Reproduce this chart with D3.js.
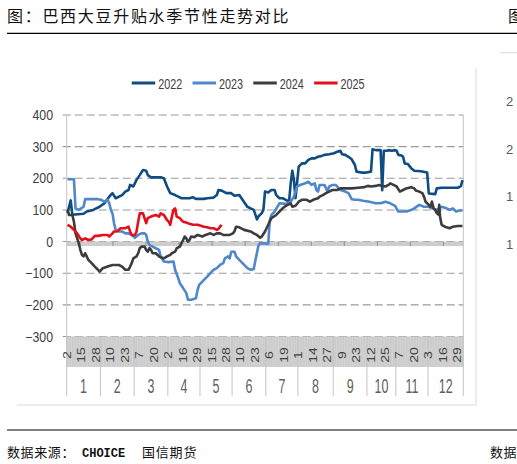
<!DOCTYPE html>
<html>
<head>
<meta charset="utf-8">
<script src="https://cdn.jsdelivr.net/npm/d3@7"></script>
<style>
  body { margin: 0; background: #fff; }
  svg { display: block; }
</style>
</head>
<body>
<div id="chart"></div>
<script>
// month groups of the category axis and how many trading days each one holds
var months = ["1", "2", "3", "4", "5", "6", "7", "8", "9", "10", "11", "12"];
var monthDays = [21, 21, 21, 20, 20, 21, 20, 22, 21, 18, 20, 22];

// day labels shown on the axis, one every 9th trading day
var dateLabels = ["2", "15", "28", "10", "23", "7", "20", "2", "16", "29", "15", "28", "10", "23",
    "6", "19", "1", "14", "27", "9", "23", "12", "25", "7", "20", "3", "16", "29"];
var labelStep = 9;

var yTicks = [400, 300, 200, 100, 0, -100, -200, -300];
var years = ["2022", "2023", "2024", "2025"];

// series values: [trading day index, premium]
var s2022 = [[0, 90], [2, 130], [3, 85], [10, 88], [12, 95], [16, 100], [20, 110], [23, 121], [26, 142],
    [28, 153], [30, 137], [34, 147], [36, 158], [38, 163], [39, 179], [41, 174], [43, 195], [45, 210],
    [47, 226], [49, 224], [50, 210], [52, 203], [58, 203], [60, 200], [62, 174], [64, 153], [67, 147],
    [69, 142], [71, 137], [76, 137], [78, 140], [80, 135], [85, 135], [87, 137], [91, 139], [93, 147],
    [94, 163], [96, 161], [99, 153], [102, 153], [104, 145], [107, 147], [109, 132], [112, 110],
    [114, 105], [116, 100], [117, 85], [118, 70], [119, 80], [121, 90], [122, 100], [123, 158],
    [125, 155], [127, 163], [129, 163], [130, 147], [132, 137], [134, 137], [136, 132], [138, 126],
    [139, 184], [140, 224], [141, 195], [142, 137], [144, 237], [146, 247], [148, 247], [150, 258],
    [152, 263], [154, 263], [156, 268], [158, 270], [160, 274], [163, 276], [166, 279], [168, 284],
    [170, 287], [171, 276], [173, 274], [175, 268], [177, 260], [179, 242], [180, 221], [183, 218],
    [186, 218], [189, 221], [190, 292], [192, 289], [195, 289], [196, 162], [197, 287], [199, 287],
    [200, 289], [202, 287], [204, 289], [205, 287], [206, 274], [208, 272], [209, 268], [210, 247],
    [212, 245], [214, 232], [216, 224], [220, 222], [224, 218], [225, 152], [229, 150], [230, 168],
    [233, 170], [243, 170], [245, 175], [246, 194]];

var s2023 = [[0, 197], [4, 197], [5, 105], [7, 100], [10, 110], [11, 134], [19, 134], [21, 132],
    [23, 126], [25, 132], [26, 121], [27, 100], [28, 89], [29, 58], [30, 37], [32, 32], [34, 32],
    [36, 26], [38, 26], [40, 21], [42, 12], [44, 21], [46, 26], [48, 26], [49, 21], [50, 0], [51, -11],
    [53, -16], [55, -21], [57, -26], [58, -47], [60, -63], [63, -65], [66, -63], [67, -89], [69, -116],
    [70, -132], [72, -147], [74, -163], [75, -184], [77, -184], [79, -181], [80, -179], [81, -153],
    [82, -137], [85, -121], [87, -111], [89, -100], [91, -89], [93, -84], [95, -74], [97, -68],
    [98, -53], [100, -47], [101, -53], [102, -32], [104, -32], [105, -47], [107, -58], [109, -68],
    [112, -84], [114, -89], [116, -87], [117, -60], [119, -11], [120, -5], [125, -7], [126, 68],
    [127, 84], [129, 95], [132, 121], [136, 119], [139, 126], [141, 142], [143, 174], [145, 179],
    [148, 184], [150, 189], [152, 179], [154, 184], [155, 163], [156, 158], [157, 179], [160, 179],
    [162, 158], [163, 174], [165, 179], [167, 179], [168, 174], [170, 163], [173, 158], [175, 153],
    [177, 134], [179, 132], [181, 132], [184, 129], [188, 126], [192, 121], [195, 121], [198, 126],
    [201, 121], [204, 113], [206, 95], [211, 95], [214, 100], [216, 105], [219, 116], [222, 110],
    [225, 110], [227, 105], [230, 100], [233, 110], [236, 105], [238, 100], [240, 105], [242, 95],
    [244, 98], [246, 98]];

var s2024 = [[0, 100], [1, 84], [3, 84], [4, 63], [5, 26], [7, -5], [8, -26], [9, -42], [10, -47],
    [11, -37], [12, -47], [13, -58], [15, -68], [17, -79], [19, -89], [20, -95], [22, -84], [25, -79],
    [28, -74], [32, -74], [34, -79], [36, -89], [38, -89], [39, -79], [40, -68], [41, -53], [43, -47],
    [44, -37], [45, -21], [46, -16], [48, -16], [49, -26], [50, -32], [51, -21], [52, -26], [53, -37],
    [55, -37], [57, -47], [60, -53], [62, -47], [64, -42], [65, -37], [67, -32], [68, -21], [70, -16],
    [71, -5], [72, 5], [73, 16], [74, 10], [75, 0], [76, 5], [77, 16], [79, 14], [81, 21], [84, 16],
    [86, 21], [89, 26], [91, 21], [93, 26], [95, 26], [97, 21], [101, 21], [103, 26], [104, 32],
    [105, 47], [107, 45], [110, 37], [114, 32], [116, 26], [118, 21], [120, 12], [121, 16], [123, 32],
    [125, 53], [127, 74], [130, 84], [132, 95], [134, 105], [136, 113], [139, 121], [140, 110],
    [142, 113], [144, 126], [146, 132], [149, 132], [151, 126], [153, 132], [156, 137], [157, 142],
    [159, 147], [161, 153], [163, 158], [165, 163], [168, 163], [170, 168], [177, 168], [181, 170],
    [185, 172], [187, 176], [189, 174], [192, 176], [194, 179], [196, 176], [198, 174], [200, 179],
    [201, 184], [203, 179], [205, 174], [207, 158], [209, 163], [211, 168], [214, 172], [216, 168],
    [217, 161], [219, 158], [221, 153], [222, 142], [223, 126], [225, 116], [226, 110], [227, 126],
    [228, 105], [229, 100], [230, 90], [231, 85], [231.5, 116], [232, 79], [233, 53], [235, 47],
    [238, 42], [240, 47], [243, 49], [246, 49]];

var s2025 = [[0, 53], [2, 47], [4, 37], [6, 26], [8, 10], [9, 5], [11, 10], [13, 5], [15, 7], [17, 18],
    [19, 18], [22, 21], [25, 21], [26, 16], [28, 26], [29, 32], [31, 32], [33, 42], [36, 42], [38, 47],
    [39, 32], [40, 21], [42, 21], [43, 32], [44, 63], [45, 89], [47, 89], [49, 58], [50, 74], [52, 79],
    [55, 84], [57, 79], [58, 89], [60, 84], [62, 68], [63, 63], [64, 53], [65, 79], [66, 100], [67, 105],
    [68, 79], [70, 74], [71, 68], [72, 63], [74, 60], [76, 56], [78, 53], [81, 53], [83, 50], [85, 47],
    [87, 45], [89, 42], [91, 42], [93, 37], [94, 40], [95, 47], [96, 53]];

var seriesList = [s2022, s2023, s2024, s2025];

var width = 517, height = 464;
var plot = {left: 66.7, right: 463.3, top: 115, bottom: 336.5};
var dateBandBottom = 367, monthBottom = 396;

var svg = d3.select("#chart").append("svg")
    .attr("width", width)
    .attr("height", height)
    .style("font-family", "'Liberation Sans', Arial, sans-serif");

var nDays = d3.sum(monthDays);
var x = d3.scaleLinear().domain([0, nDays]).range([plot.left, plot.right]);
var y = d3.scaleLinear().domain([-300, 400]).range([plot.bottom, plot.top]);
var colorScale = d3.scaleOrdinal().domain(years).range(["#0e4c82", "#4f87cc", "#3c3c3c", "#e3101c"]);

// month boundaries as trading day indices
var bounds = [0].concat(Array.from(d3.cumsum(monthDays)));

// helper for the condensed looking text of the picture
function sq(sel, px, py, sx, extra) {
    return sel.attr("transform", "translate(" + px + "," + py + ") scale(" + sx + ",1)" + (extra || ""));
}

// title and rules
svg.append("text")
    .attr("x", 7).attr("y", 22)
    .attr("font-family", "'Noto Sans CJK SC', sans-serif")
    .attr("font-size", 16)
    .attr("letter-spacing", 1.7)
    .attr("fill", "#111")
    .text("图：巴西大豆升贴水季节性走势对比");
// first glyph of the next page column, cut by the edge as in the picture
svg.append("text")
    .attr("x", 508).attr("y", 22)
    .attr("font-family", "'Noto Sans CJK SC', sans-serif")
    .attr("font-size", 16)
    .attr("fill", "#111")
    .text("图");
svg.append("line").attr("x1", 7).attr("x2", width).attr("y1", 33.3).attr("y2", 33.3)
    .attr("stroke", "#000").attr("stroke-width", 1.2);

// chart box (right and bottom edges only are visible)
svg.append("line").attr("x1", 476).attr("x2", 476).attr("y1", 68).attr("y2", 405)
    .attr("stroke", "#d9d9d9");
svg.append("line").attr("x1", 17).attr("x2", 476).attr("y1", 405).attr("y2", 405)
    .attr("stroke", "#d9d9d9");
// edge of the neighbouring chart
svg.append("line").attr("x1", 500).attr("x2", width).attr("y1", 52.7).attr("y2", 52.7)
    .attr("stroke", "#d9d9d9");
svg.selectAll("text.nb")
    .data(["2", "2", "1", "1"])
    .enter().append("text")
    .attr("class", "nb")
    .attr("x", 506)
    .attr("y", function(d, i) { return 106 + i * 47.5; })
    .attr("font-size", 13)
    .attr("fill", "#595959")
    .text(function(d) { return d; });

// gridlines
svg.append("g")
    .selectAll("line")
    .data(yTicks)
    .enter().append("line")
    .attr("x1", plot.left - 4)
    .attr("x2", plot.right)
    .attr("y1", function(d) { return y(d); })
    .attr("y2", function(d) { return y(d); })
    .attr("stroke", "#9a9a9a")
    .attr("stroke-width", 1.1)
    .attr("stroke-dasharray", "8,4");

// y labels
svg.append("g")
    .selectAll("text")
    .data(yTicks)
    .enter().append("text")
    .each(function(d) { sq(d3.select(this), 53, y(d) + 5, 0.88); })
    .attr("text-anchor", "end")
    .attr("font-size", 14)
    .attr("fill", "#404040")
    .text(function(d) { return d3.format("d")(d); });

// zero axis band
var days = d3.range(nDays + 1);
svg.append("rect")
    .attr("x", plot.left).attr("width", plot.right - plot.left)
    .attr("y", y(0)).attr("height", 4.5)
    .attr("fill", "#c6c6c6");
svg.append("g")
    .selectAll("line")
    .data(days)
    .enter().append("line")
    .attr("x1", function(d) { return x(d); })
    .attr("x2", function(d) { return x(d); })
    .attr("y1", y(0)).attr("y2", y(0) + 4.5)
    .attr("stroke", "#dedede").attr("stroke-width", 0.5);
svg.append("g")
    .selectAll("line")
    .data(d3.range(12))
    .enter().append("line")
    .attr("x1", function(d) { return x((d + 0.4) * nDays / 12); })
    .attr("x2", function(d) { return x((d + 0.4) * nDays / 12); })
    .attr("y1", y(0)).attr("y2", y(0) + 4.5)
    .attr("stroke", "#8f8f8f").attr("stroke-width", 1);

// date label band
svg.append("rect")
    .attr("x", plot.left).attr("width", plot.right - plot.left)
    .attr("y", plot.bottom).attr("height", dateBandBottom - plot.bottom)
    .attr("fill", "#c8c8c8");
svg.append("g")
    .selectAll("line")
    .data(days)
    .enter().append("line")
    .attr("x1", function(d) { return x(d); })
    .attr("x2", function(d) { return x(d); })
    .attr("y1", plot.bottom).attr("y2", dateBandBottom)
    .attr("stroke", "#dadada").attr("stroke-width", 0.6);

// plot edges and month separators
svg.append("g")
    .selectAll("line")
    .data(bounds)
    .enter().append("line")
    .attr("x1", function(d) { return x(d); })
    .attr("x2", function(d) { return x(d); })
    .attr("y1", function(d, i) { return (i === 0 || i === bounds.length - 1) ? plot.top : plot.bottom; })
    .attr("y2", monthBottom)
    .attr("stroke", "#c4c4c4")
    .attr("stroke-width", 1);

// day labels
svg.append("g")
    .selectAll("text")
    .data(dateLabels)
    .enter().append("text")
    .each(function(d, i) { sq(d3.select(this), x(i * labelStep + 0.5), 355, 0.8, " rotate(-90)"); })
    .attr("text-anchor", "middle")
    .attr("dominant-baseline", "central")
    .attr("font-size", 14)
    .attr("fill", "#404040")
    .text(function(d) { return d; });

// month labels
svg.append("g")
    .selectAll("text")
    .data(months)
    .enter().append("text")
    .each(function(d, i) { sq(d3.select(this), x((bounds[i] + bounds[i + 1]) / 2), 392.5, 0.64); })
    .attr("text-anchor", "middle")
    .attr("font-size", 19.5)
    .attr("fill", "#5f5f5f")
    .text(function(d) { return d; });

// the lines
var line = d3.line()
    .x(function(d) { return x(d[0] + 0.5); })
    .y(function(d) { return y(d[1]); });

svg.append("g")
    .selectAll("path")
    .data(seriesList)
    .enter().append("path")
    .attr("d", line)
    .attr("fill", "none")
    .attr("stroke", function(d, i) { return colorScale(years[i]); })
    .attr("stroke-width", 2.6)
    .attr("stroke-linejoin", "round");

// legend
var legend = svg.append("g")
    .selectAll("g")
    .data(years)
    .enter().append("g")
    .attr("transform", function(d, i) { return "translate(" + (131.7 + i * 60.8) + ",83)"; });
legend.append("line")
    .attr("x1", 0).attr("x2", 23.5)
    .attr("stroke", colorScale)
    .attr("stroke-width", 3);
legend.append("text")
    .each(function() { sq(d3.select(this), 26.5, 5.5, 0.72); })
    .attr("font-size", 15)
    .attr("fill", "#404040")
    .text(function(d) { return d; });

// footer
svg.append("line").attr("x1", 7).attr("x2", width).attr("y1", 430).attr("y2", 430)
    .attr("stroke", "#000").attr("stroke-width", 1.2);
var foot = svg.append("g")
    .attr("font-family", "'Noto Sans CJK SC', sans-serif")
    .attr("font-size", 13)
    .attr("fill", "#111");
foot.append("text").attr("x", 7).attr("y", 457).attr("letter-spacing", 0.6).text("数据来源：");
foot.append("text").attr("x", 82).attr("y", 457)
    .attr("font-family", "'Liberation Mono', monospace")
    .attr("font-weight", "bold").attr("font-size", 12)
    .text("CHOICE");
foot.append("text").attr("x", 142).attr("y", 457).attr("letter-spacing", 0.8).text("国信期货");
// start of the next column's source note, cut by the edge as in the picture
foot.append("text").attr("x", 490).attr("y", 457).attr("letter-spacing", 0.6).text("数据");
</script>
</body>
</html>
